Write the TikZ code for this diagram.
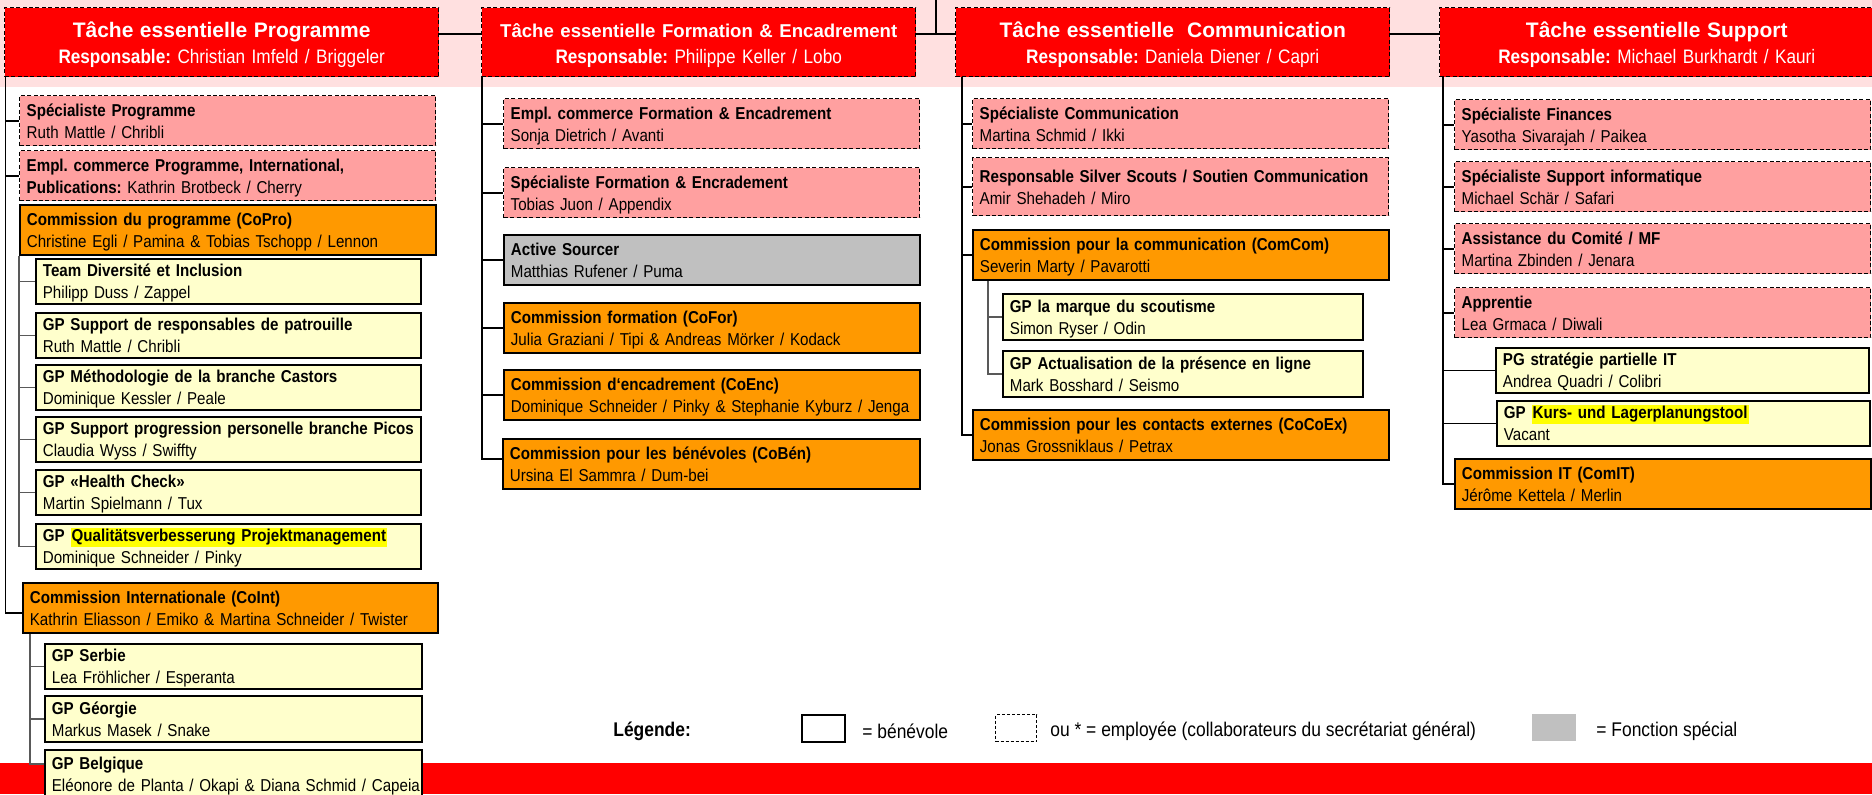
\documentclass[tikz,border=0pt]{standalone}
\usepackage{fontspec}
\setmainfont{Liberation Sans}[FakeStretch=0.88]
\newfontfamily\hdfont{Liberation Sans}
\frenchspacing
\hyphenpenalty=10000
\definecolor{headred}{HTML}{FF0000}
\definecolor{bandpink}{HTML}{FFE0E0}
\definecolor{emppink}{HTML}{FFA0A0}
\definecolor{comorange}{HTML}{FF9900}
\definecolor{gpyellow}{HTML}{FFFFCC}
\definecolor{spgrey}{HTML}{C0C0C0}
\definecolor{hlyellow}{HTML}{FFFF00}
\newcommand{\hlt}[1]{{\setlength{\fboxsep}{0.6pt}\colorbox{hlyellow}{#1}}}
\tikzset{
  boxw/.style={minimum width=#1*0.5pt, text width=#1*0.5pt-7pt},
  boxh/.style={minimum height=#1*0.5pt},
  card/.style={anchor=north west, inner xsep=3.5pt, inner ysep=0pt, align=left,
    font=\fontsize{8.6}{11}\selectfont, draw=black, line width=0.9pt,
    execute at begin node={\rule{0pt}{9pt}},
    execute at end node={\rule[-2.5pt]{0pt}{0pt}}},
  empbox/.style={card, fill=emppink, line width=0.7pt, dash pattern=on 2pt off 1.2pt, boxw=416, boxh=50},
  combox/.style={card, fill=comorange, boxw=416, boxh=50},
  gpbox/.style={card, fill=gpyellow, boxh=45},
  spbox/.style={card, fill=spgrey, boxw=416, boxh=50},
  headbox/.style={anchor=north west, inner xsep=4pt, inner ysep=0pt, align=center,
    font=\fontsize{9.75}{13}\selectfont, text=white, fill=headred, draw=black,
    line width=0.7pt, dash pattern=on 2pt off 1.2pt, boxw=432, boxh=69,
    execute at begin node={\rule{0pt}{10pt}},
    execute at end node={\rule[-1.5pt]{0pt}{0pt}}},
  conn/.style={line width=0.9pt, black},
  subconn/.style={line width=0.6pt, black!65},
  legtext/.style={anchor=west, inner sep=0pt, font=\fontsize{9.9}{12}\selectfont}
}
\begin{document}
\begin{tikzpicture}[x=0.5pt, y=-0.5pt]
\useasboundingbox (0,0) rectangle (1872,794);
\fill[bandpink] (0,0) rectangle (1872,87);
\fill[headred] (0,763) rectangle (1872,794);

% task heads
\node[headbox] (pr) at (4,7) {{\hdfont\fontsize{10.5}{13}\selectfont\bfseries Tâche essentielle Programme}\\\textbf{Responsable:} Christian Imfeld / Briggeler};
\node[headbox] (fo) at (481,7) {{\hdfont\fontsize{9.3}{13}\selectfont\bfseries Tâche essentielle Formation \& Encadrement}\\\textbf{Responsable:} Philippe Keller / Lobo};
\node[headbox] (co) at (955,7) {{\hdfont\fontsize{10.5}{13}\selectfont\bfseries Tâche essentielle\ \ Communication}\\\textbf{Responsable:} Daniela Diener / Capri};
\node[headbox] (su) at (1439,7) {{\hdfont\fontsize{10.5}{13}\selectfont\bfseries Tâche essentielle Support}\\\textbf{Responsable:} Michael Burkhardt / Kauri};
\coordinate (up) at (936,0);
\draw[conn] ([yshift=4.25pt]pr.east) -- ([yshift=4.25pt]fo.west);
\draw[conn] ([yshift=4.25pt]fo.east) -- ([yshift=4.25pt]co.west);
\draw[conn] ([yshift=4.25pt]co.east) -- ([yshift=4.25pt]su.west);
\draw[conn] (up) |- ([yshift=4.25pt]co.west);

% Programme
\node[empbox] (p1) at (19,95) {\textbf{Spécialiste Programme}\\Ruth Mattle / Chribli};
\node[empbox] (p2) at (19,150) {\textbf{Empl. commerce Programme, International,}\\\textbf{Publications:} Kathrin Brotbeck / Cherry};
\node[combox] (p3) at (19,204) {\textbf{Commission du programme (CoPro)}\\Christine Egli / Pamina \& Tobias Tschopp / Lennon};
\node[gpbox, boxw=385] (p4) at (35,258) {\textbf{Team Diversité et Inclusion}\\Philipp Duss / Zappel};
\node[gpbox, boxw=385] (p5) at (35,312) {\textbf{GP Support de responsables de patrouille}\\Ruth Mattle / Chribli};
\node[gpbox, boxw=385] (p6) at (35,364) {\textbf{GP Méthodologie de la branche Castors}\\Dominique Kessler / Peale};
\node[gpbox, boxw=385] (p7) at (35,416) {\textbf{GP Support progression personelle branche Picos}\\Claudia Wyss / Swiffty};
\node[gpbox, boxw=385] (p8) at (35,469) {\textbf{GP «Health Check»}\\Martin Spielmann / Tux};
\node[gpbox, boxw=385] (p9) at (35,523) {\textbf{GP \hlt{Qualitätsverbesserung Projektmanagement}}\\Dominique Schneider / Pinky};
\node[combox, boxw=415] (p10) at (22,582) {\textbf{Commission Internationale (CoInt)}\\Kathrin Eliasson / Emiko \& Martina Schneider / Twister};
\node[gpbox, boxw=377] (p11) at (44,643) {\textbf{GP Serbie}\\Lea Fröhlicher / Esperanta};
\node[gpbox, boxw=377, boxh=46] (p12) at (44,695) {\textbf{GP Géorgie}\\Markus Masek / Snake};
\node[gpbox, boxw=377, boxh=48] (p13) at (44,749) {\textbf{GP Belgique}\\\mbox{Eléonore de Planta / Okapi \& Diana Schmid / Capeia}};
\coordinate (tp) at ([xshift=0.75pt]pr.south west);
\foreach \n in {p1,p2}
{
    \draw[conn] (tp |- \n.west) -- (\n.west);
}
\draw[conn] (tp) |- ([yshift=-2.5pt]p10.west);
\coordinate (tq) at (p3.south west);
\foreach \n in {p4,p5,p6,p7,p8}
{
    \draw[subconn] (tq |- \n.west) -- (\n.west);
}
\draw[subconn] (tq) |- (p9.west);
\coordinate (tr) at ([xshift=4pt]p10.south west);
\foreach \n in {p11,p12}
{
    \draw[subconn] (tr |- \n.west) -- (\n.west);
}
\draw[subconn] (tr) |- ([yshift=5pt]p13.west);

% Formation & Encadrement
\node[empbox] (f1) at (503,98) {\textbf{Empl. commerce Formation \& Encadrement}\\Sonja Dietrich / Avanti};
\node[empbox] (f2) at (503,167) {\textbf{Spécialiste Formation \& Encradement}\\Tobias Juon / Appendix};
\node[spbox] (f3) at (503,234) {\textbf{Active Sourcer}\\Matthias Rufener / Puma};
\node[combox] (f4) at (503,302) {\textbf{Commission formation (CoFor)}\\Julia Graziani / Tipi \& Andreas Mörker / Kodack};
\node[combox] (f5) at (503,369) {\textbf{Commission d‘encadrement (CoEnc)}\\Dominique Schneider / Pinky \& Stephanie Kyburz / Jenga};
\node[combox, boxw=417] (f6) at (502,438) {\textbf{Commission pour les bénévoles (CoBén)}\\Ursina El Sammra / Dum-bei};
\coordinate (tf) at ([xshift=0.5pt]fo.south west);
\foreach \n in {f1,f2,f3,f4,f5}
{
    \draw[conn] (tf |- \n.west) -- (\n.west);
}
\draw[conn] (tf) |- ([yshift=2.5pt]f6.west);

% Communication
\node[empbox] (c1) at (972,98) {\textbf{Spécialiste Communication}\\Martina Schmid / Ikki};
\node[empbox, boxh=58] (c2) at (972,157) {\textbf{Responsable Silver Scouts / Soutien Communication}\\Amir Shehadeh / Miro};
\node[combox] (c3) at (972,229) {\textbf{Commission pour la communication (ComCom)}\\Severin Marty / Pavarotti};
\node[gpbox, boxw=360, boxh=46] (c4) at (1002,293) {\textbf{GP la marque du scoutisme}\\Simon Ryser / Odin};
\node[gpbox, boxw=360, boxh=46] (c5) at (1002,350) {\textbf{GP Actualisation de la présence en ligne}\\Mark Bosshard / Seismo};
\node[combox] (c6) at (972,409) {\textbf{Commission pour les contacts externes (CoCoEx)}\\Jonas Grossniklaus / Petrax};
\coordinate (tc) at ([xshift=3.5pt]co.south west);
\foreach \n in {c1,c2,c3}
{
    \draw[conn] (tc |- \n.west) -- (\n.west);
}
\draw[conn] (tc) |- (c6.west);
\coordinate (td) at ([xshift=8pt]c3.south west);
\draw[subconn] (td |- c4.west) -- (c4.west);
\draw[subconn] (td) |- (c5.west);

% Support
\node[empbox] (s1) at (1454,99) {\textbf{Spécialiste Finances}\\Yasotha Sivarajah / Paikea};
\node[empbox] (s2) at (1454,161) {\textbf{Spécialiste Support informatique}\\Michael Schär / Safari};
\node[empbox] (s3) at (1454,223) {\textbf{Assistance du Comité / MF}\\Martina Zbinden / Jenara};
\node[empbox] (s4) at (1454,287) {\textbf{Apprentie}\\Lea Grmaca / Diwali};
\node[gpbox, boxw=373] (s5) at (1495,347) {\textbf{PG stratégie partielle IT}\\Andrea Quadri / Colibri};
\node[gpbox, boxw=373] (s6) at (1496,400) {\textbf{GP \hlt{Kurs- und Lagerplanungstool}}\\Vacant};
\node[combox] (s7) at (1454,458) {\textbf{Commission IT (ComIT)}\\Jérôme Kettela / Merlin};
\coordinate (ts) at ([xshift=2pt]su.south west);
\foreach \n in {s1,s2,s3,s4,s5,s6}
{
    \draw[conn] (ts |- \n.west) -- (\n.west);
}
\draw[conn] (ts) |- (s7.west);

% legend
\node[legtext, font=\fontsize{9.9}{12}\selectfont\bfseries] (lg) at (613,731) {Légende:};
\node[draw, line width=0.9pt, fill=white, minimum width=21.5pt, minimum height=13.5pt, anchor=north west] (lvol) at (801,714) {};
\node[legtext] (tvol) at (862,731) {= bénévole};
\node[draw, line width=0.7pt, dash pattern=on 1.5pt off 1pt, fill=white, minimum width=20.5pt, minimum height=13.5pt, anchor=north west] (lemp) at (995,714) {};
\node[legtext] (temp) at (1050,731) {ou * = employée (collaborateurs du secrétariat général)};
\node[fill=spgrey, minimum width=22pt, minimum height=13.5pt, anchor=north west] (lspe) at (1532,714) {};
\node[legtext] (tspe) at (1596,731) {= Fonction spécial};
\end{tikzpicture}
\end{document}
